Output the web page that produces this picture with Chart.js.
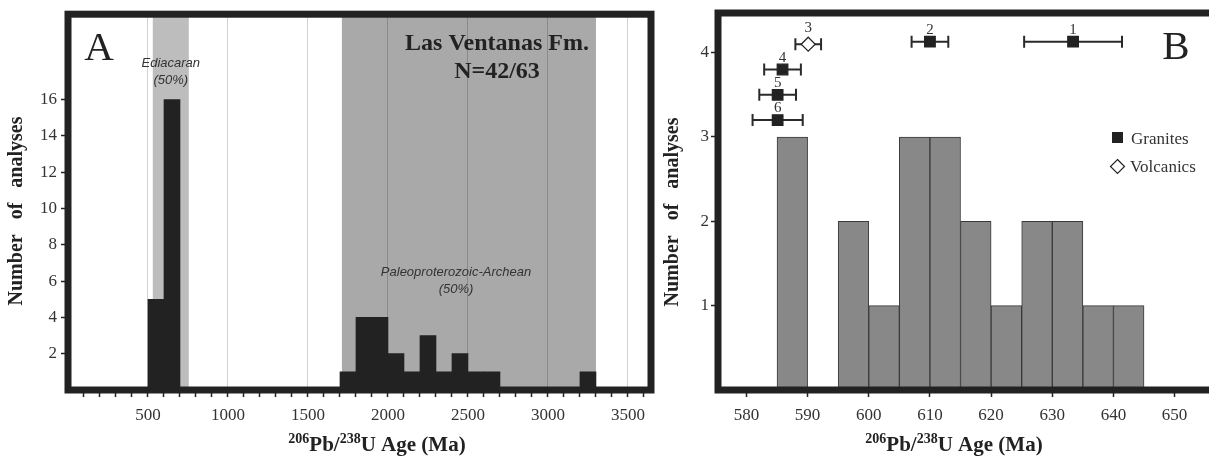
<!DOCTYPE html>
<html><head><meta charset="utf-8">
<script src="https://cdn.jsdelivr.net/npm/chart.js@4.4.0/dist/chart.umd.min.js"></script>
<style>
html,body{margin:0;padding:0;background:#fff;overflow:hidden;width:1209px;height:463px}
#wrapA{position:absolute;left:0;top:0;width:660px;height:463px}
#wrapB{position:absolute;left:660px;top:0;width:549px;height:463px}
canvas{display:block}
</style></head><body>
<div id="wrapA"><canvas id="cA" width="660" height="463"></canvas></div>
<div id="wrapB"><canvas id="cB" width="549" height="463"></canvas></div>
<script>
// ---------- Panel A data ----------
const binStartA = [500,600,700,800,900,1000,1100,1200,1300,1400,1500,1600,1700,1800,1900,2000,2100,2200,2300,2400,2500,2600,2700,2800,2900,3000,3100,3200];
const countsA   = [5,  16, 0,  0,  0,  0,   0,   0,   0,   0,   0,   0,   1,   4,   4,   2,   1,   3,   1,   2,   1,   1,   0,   0,   0,   0,   0,   1];
const binWidthA = 100;
const xTicksA = [500,1000,1500,2000,2500,3000,3500];
const yTicksA = [2,4,6,8,10,12,14,16];
const bandFromA = [530, 1712];
const bandToA   = [755, 3300];
const bandLabelA = [['Ediacaran','(50%)'], ['Paleoproterozoic-Archean','(50%)']];
const titleA = ['Las Ventanas Fm.', 'N=42/63'];

// ---------- Panel B data ----------
const binStartB = [585,590,595,600,605,610,615,620,625,630,635,640];
const countsB   = [3,  0,  2,  1,  3,  3,  2,  1,  2,  2,  1,  1];
const binWidthB = 5;
const xTicksB = [580,590,600,610,620,630,640,650];
const yTicksB = [1,2,3,4];
const sampleLabelB = ['1','2','3','4','5','6'];
const sampleAgeB   = [633.4, 610.0, 590.1, 585.9, 585.1, 585.1];
const sampleErrB   = [8.0, 3.0, 2.1, 3.0, 3.0, 4.1];
const sampleRowB   = [4.13, 4.13, 4.10, 3.80, 3.50, 3.20];
const sampleTypeB  = ['Granites','Granites','Volcanics','Granites','Granites','Granites'];
const legendB = ['Granites','Volcanics'];

// ---------- shared styling ----------
const serif = '"Liberation Serif","Times New Roman",serif';
const sans = '"Liberation Sans",Arial,sans-serif';
const INK = '#222';
const TRANSP = 'rgba(0,0,0,0)';

function drawXTitle(ctx, cx, baseline){
  const parts=[['206',true],['Pb/',false],['238',true],['U Age (Ma)',false]];
  const big='bold 21px '+serif, small='bold 14px '+serif;
  let w=0;
  parts.forEach(p=>{ctx.font=p[1]?small:big; w+=ctx.measureText(p[0]).width;});
  let x=cx-w/2;
  ctx.textAlign='left'; ctx.textBaseline='alphabetic'; ctx.fillStyle=INK;
  parts.forEach(p=>{ctx.font=p[1]?small:big; ctx.fillText(p[0], x, p[1]?baseline-8:baseline); x+=ctx.measureText(p[0]).width;});
}
function drawYTitle(ctx, cx, cy){
  ctx.save();
  ctx.translate(cx, cy); ctx.rotate(-Math.PI/2);
  ctx.font='bold 20px '+serif; ctx.fillStyle=INK; ctx.textAlign='center'; ctx.textBaseline='middle';
  ctx.fillText('Number   of   analyses', 0, 0);
  ctx.restore();
}
function inBandA(v){
  for(let i=0;i<bandFromA.length;i++) if(v>bandFromA[i] && v<bandToA[i]) return true;
  return false;
}

const tickFont = {family: serif, size: 17};

// ---------- Panel A chart ----------
const bandsPluginA = {
  id:'bandsA',
  beforeDraw(chart){
    const {ctx, chartArea:a, scales:{x}} = chart;
    const colors = ['#bdbdbd', '#a9a9a9'];
    ctx.save();
    bandFromA.forEach((f,i)=>{
      const x0 = x.getPixelForValue(f), x1 = x.getPixelForValue(bandToA[i]);
      ctx.fillStyle = colors[i];
      ctx.fillRect(x0, a.top, x1-x0, a.bottom-a.top);
    });
    ctx.restore();
  }
};
const framePluginA = {
  id:'frameA',
  afterDraw(chart){
    const {ctx, chartArea:a, scales:{x}} = chart;
    ctx.save();
    ctx.strokeStyle=INK; ctx.lineWidth=7;
    ctx.strokeRect(a.left, a.top, a.right-a.left, a.bottom-a.top);
    // panel letter
    ctx.fillStyle=INK; ctx.font='41px '+serif; ctx.textAlign='center'; ctx.textBaseline='alphabetic';
    ctx.fillText('A', 99, 60);
    // title
    ctx.font='bold 24px '+serif; ctx.fillStyle=INK;
    ctx.fillText(titleA[0], 497, 50);
    ctx.fillText(titleA[1], 497, 78);
    // band labels
    ctx.font='italic 13px '+sans; ctx.fillStyle='#333';
    const c0 = x.getPixelForValue((bandFromA[0]+bandToA[0])/2);
    ctx.fillText(bandLabelA[0][0], c0, 67);
    ctx.fillText(bandLabelA[0][1], c0, 84);
    ctx.fillText(bandLabelA[1][0], 456, 276);
    ctx.fillText(bandLabelA[1][1], 456, 293);
    drawYTitle(ctx, 17, 211);
    drawXTitle(ctx, 377, 451);
    ctx.restore();
  }
};

new Chart(document.getElementById('cA'), {
  type:'bar',
  data:{datasets:[{
    data: binStartA.map((s,i)=>({x:s+binWidthA/2, y:countsA[i]})),
    backgroundColor:INK, borderWidth:0, barPercentage:1, categoryPercentage:1
  }]},
  options:{
    responsive:false, animation:false, devicePixelRatio:1,
    layout:{padding:{top:13,right:9,left:0,bottom:0}},
    plugins:{legend:{display:false}, tooltip:{enabled:false}},
    scales:{
      x:{type:'linear', min:0, max:3644, offset:false,
        afterFit: s=>{ s.height=73; },
        border:{display:false},
        ticks:{stepSize:100, autoSkip:false, maxRotation:0, minRotation:0, includeBounds:false, padding:8, color:'#333', font:tickFont,
          callback: v => xTicksA.includes(v) ? String(v) : ''},
        grid:{offset:false,
          color: c => { const v=c.tick?c.tick.value:0; if(!xTicksA.includes(v)) return TRANSP; return inBandA(v)?'#8a8a8a':'#d2d2d2'; },
          lineWidth:1, drawTicks:true, tickLength:7, tickWidth:1.5,
          tickColor: c => (c.tick && c.tick.value>0) ? INK : TRANSP }
      },
      y:{min:0, max:20.7,
        afterFit: s=>{ s.width=68; },
        border:{display:false},
        ticks:{stepSize:2, includeBounds:false, padding:4, color:'#333', font:tickFont,
          callback: v => yTicksA.includes(v) ? String(v) : ''},
        grid:{offset:false, drawOnChartArea:false, drawTicks:true, tickLength:7, tickWidth:1.5,
          tickColor: c => (c.tick && yTicksA.includes(c.tick.value)) ? INK : TRANSP}
      }
    }
  },
  plugins:[bandsPluginA, framePluginA]
});

// ---------- Panel B chart ----------
const errorBarPluginB = {
  id:'errB',
  beforeDatasetDraw(chart, args){
    if(args.index!==1) return;
    const {ctx, scales:{x,y}} = chart;
    ctx.save();
    ctx.strokeStyle='#2a2a2a'; ctx.lineWidth=2;
    sampleAgeB.forEach((a,i)=>{
      const x0=x.getPixelForValue(a-sampleErrB[i]), x1=x.getPixelForValue(a+sampleErrB[i]);
      const yy=y.getPixelForValue(sampleRowB[i]);
      ctx.beginPath();
      ctx.moveTo(x0,yy); ctx.lineTo(x1,yy);
      ctx.moveTo(x0,yy-6); ctx.lineTo(x0,yy+6);
      ctx.moveTo(x1,yy-6); ctx.lineTo(x1,yy+6);
      ctx.stroke();
    });
    ctx.restore();
  },
  afterDatasetsDraw(chart){
    const {ctx} = chart;
    const meta = chart.getDatasetMeta(1);
    ctx.save();
    ctx.font='15px '+serif; ctx.fillStyle='#333'; ctx.textAlign='center'; ctx.textBaseline='alphabetic';
    meta.data.forEach((pt,i)=>{
      const off = sampleTypeB[i]==='Volcanics' ? 12 : 8;
      ctx.fillText(sampleLabelB[i], pt.x, pt.y-off);
    });
    ctx.restore();
  }
};
const framePluginB = {
  id:'frameB',
  afterDraw(chart){
    const {ctx, chartArea:a, width} = chart;
    ctx.save();
    ctx.strokeStyle=INK; ctx.lineWidth=7;
    ctx.beginPath();
    ctx.moveTo(a.left, a.bottom+3.5); ctx.lineTo(a.left, a.top-3.5);
    ctx.moveTo(a.left-3.5, a.top); ctx.lineTo(width, a.top);
    ctx.moveTo(a.left-3.5, a.bottom); ctx.lineTo(width, a.bottom);
    ctx.stroke();
    ctx.fillStyle=INK; ctx.font='41px '+serif; ctx.textAlign='center'; ctx.textBaseline='alphabetic';
    ctx.fillText('B', 516, 59);
    // legend
    ctx.fillStyle=INK;
    ctx.fillRect(452, 132, 11, 11);
    ctx.beginPath();
    ctx.moveTo(457.5, 159.5); ctx.lineTo(464.5, 166.5); ctx.lineTo(457.5, 173.5); ctx.lineTo(450.5, 166.5); ctx.closePath();
    ctx.fillStyle='#fff'; ctx.fill(); ctx.strokeStyle=INK; ctx.lineWidth=1.2; ctx.stroke();
    ctx.font='17px '+serif; ctx.fillStyle='#333'; ctx.textAlign='left';
    ctx.fillText(legendB[0], 471, 144);
    ctx.fillText(legendB[1], 470, 172);
    drawYTitle(ctx, 13, 212);
    drawXTitle(ctx, 294, 451);
    ctx.restore();
  }
};

new Chart(document.getElementById('cB'), {
  type:'bar',
  data:{datasets:[
    { type:'bar',
      data: binStartB.map((s,i)=>({x:s+binWidthB/2, y:countsB[i]})),
      backgroundColor:'#888888', borderColor:'#3a3a3a', borderWidth:1, borderSkipped:false,
      barPercentage:1, categoryPercentage:1, order:2 },
    { type:'scatter',
      data: sampleAgeB.map((a,i)=>({x:a, y:sampleRowB[i]})),
      showLine:false,
      pointStyle: sampleTypeB.map(t=> t==='Granites' ? 'rect' : 'rectRot'),
      pointRadius: sampleTypeB.map(t=> t==='Granites' ? 7.5 : 7),
      backgroundColor: sampleTypeB.map(t=> t==='Granites' ? INK : '#ffffff'),
      borderColor: INK, borderWidth:1.2, order:1, clip:false }
  ]},
  options:{
    responsive:false, animation:false, devicePixelRatio:1,
    layout:{padding:{top:13,right:0,left:0,bottom:0}},
    plugins:{legend:{display:false}, tooltip:{enabled:false}},
    scales:{
      x:{type:'linear', min:575.35, max:654.2, offset:false,
        afterFit: s=>{ s.height=73; },
        border:{display:false},
        ticks:{stepSize:10, autoSkip:false, maxRotation:0, minRotation:0, includeBounds:false, padding:8, color:'#333', font:tickFont,
          callback: v => xTicksB.includes(v) ? String(v) : ''},
        grid:{offset:false, drawOnChartArea:false, drawTicks:true, tickLength:7, tickWidth:1.5,
          tickColor: c => (c.tick && xTicksB.includes(c.tick.value)) ? INK : TRANSP}
      },
      y:{min:0, max:4.47,
        afterFit: s=>{ s.width=58; },
        border:{display:false},
        ticks:{stepSize:1, includeBounds:false, padding:2, color:'#333', font:tickFont,
          callback: v => yTicksB.includes(v) ? String(v) : ''},
        grid:{offset:false, drawOnChartArea:false, drawTicks:true, tickLength:7, tickWidth:1.5,
          tickColor: c => (c.tick && yTicksB.includes(c.tick.value)) ? INK : TRANSP}
      }
    }
  },
  plugins:[errorBarPluginB, framePluginB]
});
</script>
</body></html>
